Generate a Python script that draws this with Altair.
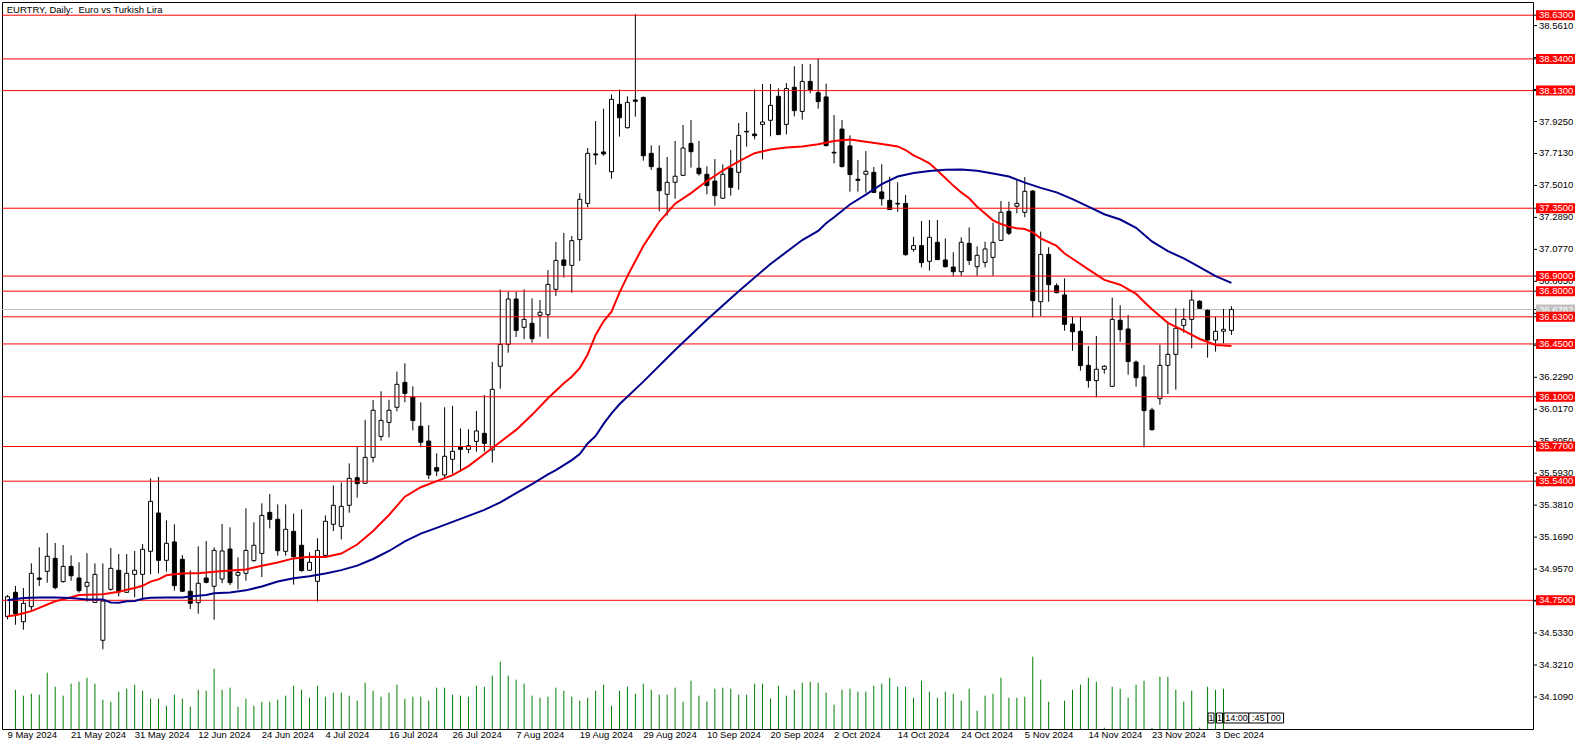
import altair as alt
import pandas as pd

# ---------------- data ----------------
opens = [34.642, 34.803, 34.608, 34.708, 34.898, 34.942, 35.028, 34.874, 34.975, 34.898,
         34.843, 34.736, 34.485, 34.823, 34.949, 34.803, 34.922, 34.922, 35.075, 35.329,
         35.015, 35.137, 35.022, 34.810, 34.734, 34.898, 34.843, 34.891, 35.090, 34.916,
         34.929, 35.013, 35.061, 35.333, 35.287, 35.075, 35.207, 35.115, 34.949, 34.876,
         35.048, 35.254, 35.240, 35.380, 35.563, 35.526, 35.698, 35.837, 35.930, 36.030,
         36.195, 36.098, 35.904, 35.806, 35.630, 35.581, 35.685, 35.767, 35.751, 35.804,
         35.857, 35.747, 36.302, 36.447, 36.748, 36.560, 36.587, 36.640, 36.644, 36.812,
         37.007, 36.971, 37.142, 37.382, 37.710, 37.723, 37.592, 38.039, 37.884, 38.068,
         38.085, 37.714, 37.615, 37.442, 37.522, 37.568, 37.780, 37.615, 37.575, 37.530,
         37.416, 37.615, 37.588, 37.860, 37.842, 37.906, 37.933, 38.092, 37.906, 38.152,
         37.992, 38.191, 38.116, 38.088, 37.721, 37.875, 37.763, 37.542, 37.575, 37.588,
         37.458, 37.402, 37.382, 37.382, 37.077, 37.102, 36.998, 37.124, 37.007, 36.960,
         36.929, 37.117, 36.962, 36.991, 37.024, 37.137, 37.329, 37.363, 37.323, 37.464,
         36.730, 37.044, 36.836, 36.775, 36.582, 36.534, 36.308, 36.207, 36.282, 36.169,
         36.607, 36.549, 36.330, 36.231, 36.012, 36.087, 36.308, 36.381, 36.573, 36.613,
         36.733, 36.673, 36.476, 36.534, 36.540]
highs = [34.785, 34.845, 34.832, 34.995, 35.101, 35.196, 35.130, 35.117, 35.048, 35.002,
         35.062, 34.995, 34.995, 35.097, 35.057, 35.057, 35.077, 35.123, 35.559, 35.568,
         35.280, 35.254, 35.050, 34.949, 35.108, 35.143, 35.101, 35.256, 35.234, 35.035,
         35.360, 35.267, 35.393, 35.455, 35.386, 35.386, 35.325, 35.353, 35.068, 35.161,
         35.313, 35.512, 35.532, 35.658, 35.769, 35.946, 36.078, 36.136, 36.080, 36.266,
         36.321, 36.169, 36.063, 35.912, 35.725, 36.030, 36.039, 35.890, 35.884, 36.005,
         36.111, 36.330, 36.810, 36.797, 36.797, 36.812, 36.752, 36.741, 36.940, 37.126,
         37.186, 37.166, 37.449, 37.749, 37.928, 38.010, 38.105, 38.138, 38.092, 38.636,
         38.090, 37.767, 37.767, 37.690, 37.796, 37.902, 37.935, 37.796, 37.628, 37.676,
         37.641, 37.736, 37.915, 37.988, 38.138, 38.174, 38.174, 38.145, 38.180, 38.291,
         38.306, 38.306, 38.342, 38.176, 37.968, 37.935, 37.833, 37.670, 37.729, 37.623,
         37.641, 37.559, 37.522, 37.438, 37.161, 37.265, 37.272, 37.272, 37.150, 37.058,
         37.157, 37.223, 37.097, 37.128, 37.254, 37.398, 37.394, 37.542, 37.557, 37.470,
         37.195, 37.091, 36.852, 36.885, 36.631, 36.631, 36.436, 36.503, 36.310, 36.757,
         36.706, 36.642, 36.340, 36.310, 36.027, 36.445, 36.598, 36.686, 36.686, 36.808,
         36.741, 36.680, 36.631, 36.682, 36.700]
lows = [34.624, 34.588, 34.555, 34.675, 34.845, 34.867, 34.823, 34.867, 34.880, 34.801,
        34.741, 34.734, 34.425, 34.814, 34.776, 34.801, 34.770, 34.752, 34.922, 34.929,
        34.940, 34.814, 34.805, 34.692, 34.661, 34.863, 34.622, 34.863, 34.851, 34.823,
        34.880, 35.006, 34.904, 35.227, 35.046, 35.046, 34.854, 34.940, 34.947, 34.741,
        35.046, 35.209, 35.154, 35.331, 35.431, 35.523, 35.665, 35.808, 35.830, 36.003,
        36.063, 35.877, 35.765, 35.554, 35.574, 35.554, 35.590, 35.601, 35.725, 35.736,
        35.736, 35.663, 36.153, 36.392, 36.496, 36.481, 36.458, 36.498, 36.485, 36.768,
        36.890, 36.790, 37.000, 37.356, 37.639, 37.698, 37.546, 37.825, 37.878, 37.957,
        37.665, 37.604, 37.329, 37.301, 37.413, 37.566, 37.619, 37.566, 37.442, 37.367,
        37.413, 37.433, 37.473, 37.758, 37.807, 37.674, 37.827, 37.836, 37.840, 37.959,
        37.937, 38.112, 38.010, 37.760, 37.648, 37.620, 37.460, 37.460, 37.453, 37.450,
        37.367, 37.338, 37.327, 37.035, 37.062, 36.958, 36.936, 37.007, 36.958, 36.901,
        36.901, 36.974, 36.901, 36.958, 36.901, 37.135, 37.172, 37.316, 37.290, 36.626,
        36.635, 36.730, 36.786, 36.538, 36.405, 36.273, 36.160, 36.096, 36.253, 36.165,
        36.465, 36.246, 36.167, 35.764, 35.877, 36.047, 36.118, 36.147, 36.525, 36.421,
        36.682, 36.359, 36.399, 36.454, 36.510]
closes = [34.774, 34.661, 34.730, 34.929, 34.889, 35.042, 34.834, 34.975, 34.913, 34.814,
          34.869, 34.922, 34.745, 34.962, 34.807, 34.929, 34.949, 35.088, 35.406, 35.015,
          35.128, 34.847, 34.810, 34.730, 34.863, 34.869, 35.081, 35.077, 34.867, 34.935,
          35.081, 35.115, 35.313, 35.287, 35.079, 35.221, 35.039, 34.947, 35.002, 35.081,
          35.274, 35.380, 35.373, 35.559, 35.523, 35.698, 36.010, 35.943, 36.010, 36.182,
          36.122, 35.943, 35.798, 35.581, 35.607, 35.705, 35.738, 35.751, 35.775, 35.873,
          35.791, 36.149, 36.447, 36.748, 36.540, 36.613, 36.485, 36.660, 36.845, 37.004,
          36.971, 37.135, 37.409, 37.714, 37.703, 37.710, 38.072, 37.950, 38.052, 38.059,
          37.698, 37.626, 37.466, 37.522, 37.562, 37.749, 37.725, 37.579, 37.500, 37.433,
          37.575, 37.489, 37.833, 37.856, 37.831, 37.922, 38.032, 37.838, 38.143, 37.997,
          38.191, 38.136, 38.057, 37.765, 37.716, 37.626, 37.573, 37.535, 37.595, 37.455,
          37.413, 37.341, 37.378, 37.042, 37.102, 36.989, 37.157, 37.009, 36.962, 36.929,
          37.124, 37.004, 37.038, 37.080, 37.124, 37.323, 37.184, 37.382, 37.462, 36.737,
          37.044, 36.843, 36.790, 36.580, 36.531, 36.306, 36.207, 36.282, 36.302, 36.613,
          36.545, 36.333, 36.226, 36.008, 35.881, 36.308, 36.381, 36.554, 36.613, 36.741,
          36.686, 36.476, 36.534, 36.547, 36.678]
volumes = [0, 3930, 3330, 3530, 3430, 5630, 4230, 3330, 4530, 4730,
           5130, 4530, 2930, 2730, 3730, 4030, 4430, 3830, 3030, 3030,
           2330, 3430, 3030, 2230, 3930, 3830, 6030, 3930, 4130, 2230,
           3030, 2330, 2730, 2730, 2930, 3330, 4330, 3930, 3130, 4330,
           3230, 3630, 3630, 3330, 2830, 4630, 3830, 3230, 3630, 4430,
           3030, 3230, 3230, 2830, 4130, 4130, 3430, 3330, 3230, 4330,
           4230, 5330, 6730, 5330, 4930, 4530, 3330, 3130, 3230, 4130,
           3830, 3230, 2830, 3130, 3830, 4430, 2330, 3830, 4230, 3530,
           4530, 3930, 3430, 3430, 4130, 2730, 4830, 3330, 2730, 4030,
           4130, 4030, 3430, 3430, 4530, 4530, 3030, 4330, 3330, 3930,
           4630, 4730, 4630, 3630, 2430, 3930, 4030, 3730, 3730, 4330,
           4530, 5130, 4230, 4230, 3130, 4830, 3730, 3130, 3730, 3530,
           2830, 4030, 1830, 3330, 3530, 5130, 3130, 3130, 3230, 7230,
           4930, 2730, 0, 2830, 3930, 4430, 5130, 4730, 130, 4230,
           4030, 3130, 4430, 4830, 130, 5230, 5230, 3930, 2730, 3830,
           130, 4230, 3930, 4030, 0]

ma_fast_bars = [0, 1, 2, 3, 4, 5, 6, 7, 8, 9, 10, 11, 12, 13, 14, 15, 16, 17, 18, 19,
                20, 21, 22, 23, 24, 25, 26, 28, 30, 32, 34, 36, 38, 40, 42, 44, 46, 48, 50, 52,
                54, 56, 57, 58, 60, 62, 64, 66, 68, 70, 71, 72, 73, 74, 75, 76, 77, 78, 79, 80,
                81, 82, 84, 86, 88, 90, 92, 94, 96, 98, 100, 102, 104, 106, 108, 110, 112, 113, 114, 115,
                116, 117, 118, 119, 120, 121, 122, 123, 124, 125, 126, 127, 128, 129, 130, 132, 133, 134, 136, 138,
                140, 142, 143, 144, 146, 148, 150, 152, 154]
ma_fast_vals = [34.644, 34.651, 34.664, 34.678, 34.700, 34.722, 34.743, 34.757, 34.770, 34.785,
                34.787, 34.788, 34.790, 34.798, 34.806, 34.820, 34.832, 34.846, 34.874, 34.889,
                34.916, 34.923, 34.927, 34.929, 34.930, 34.934, 34.940, 34.947, 34.955, 34.979,
                35.001, 35.028, 35.039, 35.038, 35.060, 35.120, 35.210, 35.316, 35.437, 35.500,
                35.540, 35.580, 35.610, 35.640, 35.720, 35.800, 35.880, 35.980, 36.090, 36.190,
                36.233, 36.290, 36.380, 36.510, 36.600, 36.664, 36.790, 36.900, 37.000, 37.100,
                37.180, 37.260, 37.380, 37.450, 37.530, 37.600, 37.660, 37.715, 37.740, 37.752,
                37.760, 37.774, 37.796, 37.805, 37.791, 37.776, 37.760, 37.736, 37.700, 37.675,
                37.648, 37.600, 37.550, 37.500, 37.455, 37.416, 37.360, 37.315, 37.270, 37.245,
                37.228, 37.217, 37.212, 37.190, 37.150, 37.100, 37.050, 37.015, 36.945, 36.875,
                36.843, 36.782, 36.730, 36.680, 36.590, 36.538, 36.483, 36.443, 36.436]
ma_slow_bars = [0, 2, 4, 6, 8, 10, 12, 13, 14, 15, 16, 17, 18, 20, 22, 23, 24, 25, 26, 28,
                30, 32, 34, 36, 38, 40, 42, 44, 46, 48, 50, 52, 54, 56, 58, 60, 62, 64, 66, 68,
                69, 71, 72, 73, 74, 75, 76, 77, 80, 84, 88, 92, 96, 100, 102, 103, 104, 106, 108, 110,
                112, 114, 116, 118, 120, 122, 124, 126, 128, 130, 132, 134, 136, 138, 140, 142, 144, 146, 148, 150,
                152, 154]
ma_slow_vals = [34.750, 34.766, 34.768, 34.768, 34.766, 34.756, 34.755, 34.736, 34.734, 34.744,
                34.745, 34.760, 34.767, 34.768, 34.768, 34.775, 34.781, 34.785, 34.796, 34.801,
                34.816, 34.842, 34.875, 34.896, 34.910, 34.928, 34.950, 34.980, 35.024, 35.077,
                35.141, 35.192, 35.230, 35.270, 35.310, 35.350, 35.400, 35.460, 35.520, 35.585,
                35.614, 35.680, 35.720, 35.790, 35.840, 35.920, 35.990, 36.050, 36.200, 36.410,
                36.610, 36.800, 36.980, 37.139, 37.199, 37.250, 37.290, 37.375, 37.440, 37.510,
                37.560, 37.583, 37.597, 37.605, 37.606, 37.598, 37.580, 37.560, 37.520, 37.485,
                37.455, 37.410, 37.360, 37.310, 37.275, 37.220, 37.130, 37.065, 37.018, 36.960,
                36.900, 36.855]

level_prices = [38.63, 38.34, 38.13, 37.35, 36.90, 36.80, 36.63, 36.45, 36.10, 35.77, 35.54, 34.75]
# price-scale tick values; those sitting right under a red level box are hidden
scale_prices = [34.109, 34.321, 34.533, 34.745, 34.957, 35.169, 35.381, 35.593, 35.805, 36.017,
                36.229, 36.441, 36.653, 36.865, 37.077, 37.289, 37.501, 37.713, 37.925, 38.137,
                38.349, 38.561]
hidden_scale_prices = [34.745, 36.441, 36.653, 38.137, 38.349]
current_price = 36.6782

date_bars = [0, 8, 16, 24, 32, 40, 48, 56, 64, 72, 80, 88, 96, 104, 112, 120, 128, 136, 144, 152]
date_labels = ["9 May 2024", "21 May 2024", "31 May 2024", "12 Jun 2024", "24 Jun 2024",
               "4 Jul 2024", "16 Jul 2024", "26 Jul 2024", "7 Aug 2024", "19 Aug 2024",
               "29 Aug 2024", "10 Sep 2024", "20 Sep 2024", "2 Oct 2024", "14 Oct 2024",
               "24 Oct 2024", "5 Nov 2024", "14 Nov 2024", "23 Nov 2024", "3 Dec 2024"]

title_text = "EURTRY, Daily:\u00a0 Euro vs Turkish Lira"

# time-tag boxes at the bottom right (in bar units)
tag_from = [151.06, 152.12, 153.06, 156.19, 158.56]
tag_to = [151.81, 152.88, 156.19, 158.56, 160.56]
tag_text = ["1", "1", "14:00", ":45", "00"]

# ---------------- layout ----------------
W, H = 1531, 727
X_DOMAIN = [-0.0625, 191.3125]
Y_DOMAIN = [33.8966, 38.7175]
PX_PER_UNIT = H / (Y_DOMAIN[1] - Y_DOMAIN[0])
HALF_BOX = 5.0 / PX_PER_UNIT
FONT = "Liberation Sans"
FS = 9.5

xs = alt.Scale(domain=X_DOMAIN, nice=False, zero=False)
ys = alt.Scale(domain=Y_DOMAIN, nice=False, zero=False)

n = len(opens)
df = pd.DataFrame({"i": list(range(n)), "o": opens, "h": highs, "l": lows,
                   "c": closes, "v": volumes})

X = alt.X("i:Q", scale=xs, axis=None)

wicks = alt.Chart(df).mark_rule(color="black", strokeWidth=1).encode(
    x=X, y=alt.Y("l:Q", scale=ys, axis=None), y2="h:Q")
bodies = alt.Chart(df).mark_bar(size=4, stroke="black", strokeWidth=1).encode(
    x=X, y=alt.Y("o:Q", scale=ys, axis=None), y2="c:Q",
    fill=alt.condition("datum.c >= datum.o", alt.value("white"), alt.value("black")))

fast = alt.Chart(pd.DataFrame({"i": ma_fast_bars, "m": ma_fast_vals})).mark_line(
    color="#ff0000", strokeWidth=2).encode(x=X, y=alt.Y("m:Q", scale=ys, axis=None))
slow = alt.Chart(pd.DataFrame({"i": ma_slow_bars, "m": ma_slow_vals})).mark_line(
    color="#00008b", strokeWidth=2).encode(x=X, y=alt.Y("m:Q", scale=ys, axis=None))

lev_df = pd.DataFrame({"p": level_prices, "t": [f"{p:.4f}" for p in level_prices]})
lev_df["lo"] = lev_df["p"] - HALF_BOX
lev_df["hi"] = lev_df["p"] + HALF_BOX
levels = alt.Chart(lev_df).mark_rule(color="#ff0000", strokeWidth=1).encode(
    y=alt.Y("p:Q", scale=ys, axis=None), x=alt.value(0), x2=alt.value(W))

cur_df = pd.DataFrame({"p": [current_price], "t": [f"{current_price:.4f}"]})
cur_df["lo"] = cur_df["p"] - HALF_BOX
cur_df["hi"] = cur_df["p"] + HALF_BOX
cur_line = alt.Chart(cur_df).mark_rule(color="#c0c0c0", strokeWidth=1).encode(
    y=alt.Y("p:Q", scale=ys, axis=None), x=alt.value(0), x2=alt.value(W))

visible_scale = [p for p in scale_prices if p not in hidden_scale_prices]
sc_df = pd.DataFrame({"p": visible_scale, "t": [f"{p:.4f}" for p in visible_scale]})
all_ticks = pd.DataFrame({"p": scale_prices + level_prices + [current_price]})
ticks = alt.Chart(all_ticks).mark_rule(color="black", strokeWidth=1).encode(
    y=alt.Y("p:Q", scale=ys, axis=None), x=alt.value(W), x2=alt.value(W + 4))
sc_text = alt.Chart(sc_df).mark_text(align="left", baseline="middle", font=FONT,
                                     fontSize=FS, color="black").encode(
    y=alt.Y("p:Q", scale=ys, axis=None), x=alt.value(W + 6), text="t:N")
cur_box = alt.Chart(cur_df).mark_rect(color="#c0c0c0").encode(
    y=alt.Y("lo:Q", scale=ys, axis=None), y2="hi:Q", x=alt.value(W + 3), x2=alt.value(W + 42))
cur_text = alt.Chart(cur_df).mark_text(align="left", baseline="middle", font=FONT,
                                       fontSize=FS, color="white").encode(
    y=alt.Y("p:Q", scale=ys, axis=None), x=alt.value(W + 6), text="t:N")
lev_box = alt.Chart(lev_df).mark_rect(color="#ff0000").encode(
    y=alt.Y("lo:Q", scale=ys, axis=None), y2="hi:Q", x=alt.value(W + 3), x2=alt.value(W + 42))
lev_text = alt.Chart(lev_df).mark_text(align="left", baseline="middle", font=FONT,
                                       fontSize=FS, color="white").encode(
    y=alt.Y("p:Q", scale=ys, axis=None), x=alt.value(W + 6), text="t:N")

dates = alt.Chart(pd.DataFrame({"i": date_bars, "t": date_labels})).mark_text(
    align="left", baseline="middle", font=FONT, fontSize=FS, color="black").encode(
    x=X, y=alt.value(H + 6), text="t:N")

title = alt.Chart(pd.DataFrame({"t": [title_text]})).mark_text(
    align="left", baseline="alphabetic", font=FONT, fontSize=FS, color="black").encode(
    x=alt.value(4.7), y=alt.value(10.7), text="t:N")

tag_df = pd.DataFrame({"a": tag_from, "b": tag_to, "t": tag_text})
tag_df["m"] = (tag_df["a"] + tag_df["b"]) / 2
tag_boxes = alt.Chart(tag_df).mark_rect(fill="white", stroke="black", strokeWidth=1).encode(
    x=alt.X("a:Q", scale=xs, axis=None), x2="b:Q", y=alt.value(H - 16), y2=alt.value(H - 6))
tag_texts = alt.Chart(tag_df).mark_text(align="center", baseline="middle", font=FONT,
                                        fontSize=9, color="black").encode(
    x=alt.X("m:Q", scale=xs, axis=None), y=alt.value(H - 11), text="t:N")

vol = alt.Chart(df).mark_rule(color="#008000", strokeWidth=1).encode(
    x=X, y=alt.Y("v:Q", scale=alt.Scale(domain=[0, 72700], nice=False, zero=True), axis=None),
    y2=alt.value(H))

price = alt.layer(cur_line, wicks, bodies, levels, fast, slow,
                  ticks, sc_text, cur_box, cur_text, lev_box, lev_text,
                  dates, title, tag_boxes, tag_texts)

chart = alt.layer(vol, price).resolve_scale(y="independent").properties(
    width=W, height=H,
    autosize=alt.AutoSizeParams(type="none"),
    padding={"left": 2, "top": 2, "right": 1586 - 2 - W, "bottom": 750 - 2 - H},
    background="white",
).configure_view(stroke="black", strokeWidth=1)

chart.save("out.html", embed_options={"renderer": "svg", "actions": False})
